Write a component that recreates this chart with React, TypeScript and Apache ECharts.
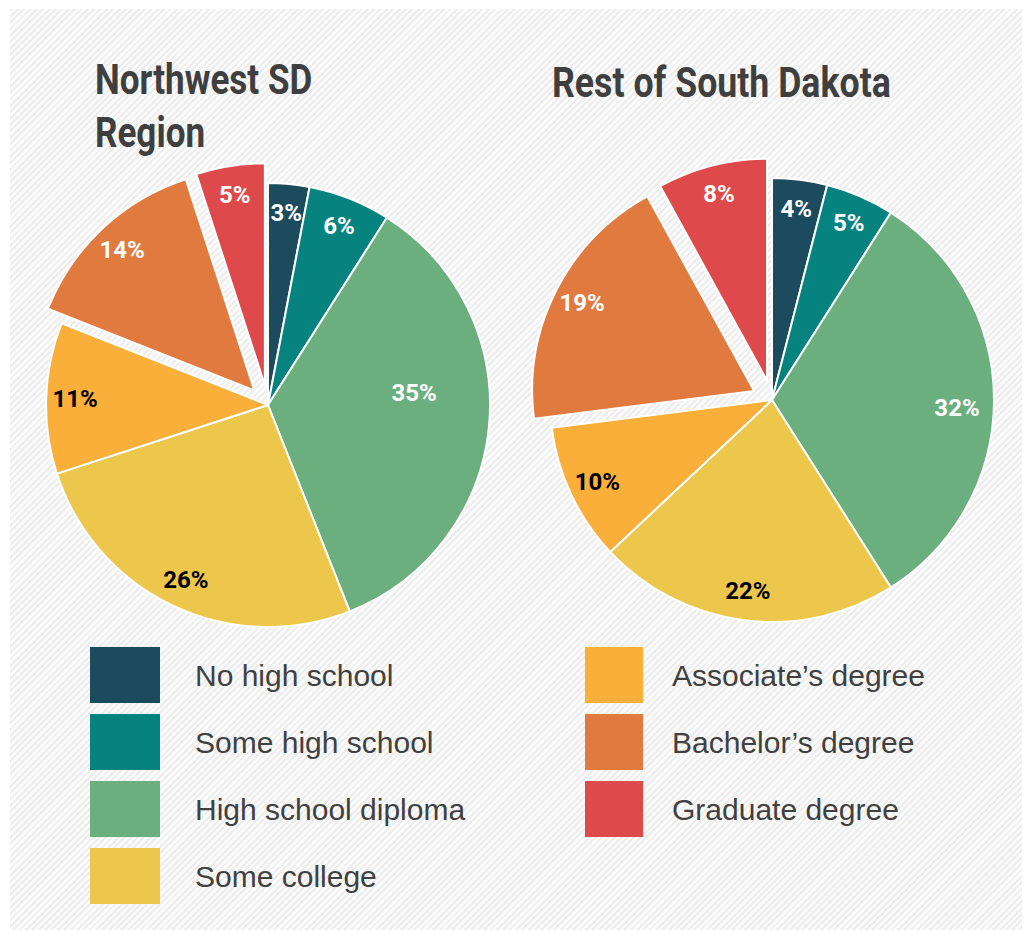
import React, { useEffect, useRef } from "react";
import * as echarts from "echarts";

const categories = [
  "No high school",
  "Some high school",
  "High school diploma",
  "Some college",
  "Associate\u2019s degree",
  "Bachelor\u2019s degree",
  "Graduate degree",
];
const northwestValues = [3, 6, 35, 26, 11, 14, 5];
const restValues = [4, 5, 32, 22, 10, 19, 8];
const explodedCategories = ["Bachelor\u2019s degree", "Graduate degree"];
const leftTitleLines = ["Northwest SD", "Region"];
const rightTitleLines = ["Rest of South Dakota"];

const colors = ["#1c4b5e", "#07837f", "#6baf7f", "#edc74c", "#f9af3a", "#e07a3f", "#de4a4b"];
const labelColors = ["#ffffff", "#ffffff", "#ffffff", "#000000", "#000000", "#ffffff", "#ffffff"];

const TITLE_FONT = "Roboto";
const LABEL_FONT = "Roboto";
const LEGEND_FONT = "'Liberation Sans', Arial, sans-serif";

function pieData(values: number[], transparent: boolean) {
  return categories.map((name, i) => ({
    name,
    value: values[i],
    selected: explodedCategories.includes(name),
    itemStyle: { color: transparent ? "rgba(0,0,0,0)" : colors[i] },
    label: { color: labelColors[i] },
  }));
}

export default function App() {
  const ref = useRef<HTMLDivElement>(null);

  useEffect(() => {
    if (!ref.current) return;
    const chart = echarts.init(ref.current, undefined, { renderer: "svg" });

    const mainSeries = (center: number[], values: number[]) => ({
      type: "pie",
      center,
      radius: 222,
      startAngle: 90,
      clockwise: true,
      selectedMode: "multiple",
      selectedOffset: 20,
      avoidLabelOverlap: false,
      label: { show: false },
      labelLine: { show: false },
      itemStyle: { borderColor: "#ffffff", borderWidth: 2 },
      select: { itemStyle: { borderColor: "#ffffff", borderWidth: 2 } },
      emphasis: { disabled: true },
      data: pieData(values, false),
    });

    const labelSeries = (center: number[], values: number[], nudge: (i: number) => any) => ({
      type: "pie",
      center,
      radius: [158, 222],
      startAngle: 90,
      clockwise: true,
      silent: true,
      selectedMode: "multiple",
      selectedOffset: 20,
      avoidLabelOverlap: false,
      itemStyle: { color: "rgba(0,0,0,0)", borderWidth: 0 },
      select: { itemStyle: { color: "rgba(0,0,0,0)", borderWidth: 0 } },
      emphasis: { disabled: true },
      label: {
        show: true,
        position: "inside",
        formatter: "{c}%",
        fontFamily: LABEL_FONT,
        fontWeight: "bold",
        fontSize: 24,
      },
      labelLine: { show: false },
      labelLayout: (p: any) => nudge(p.dataIndex),
      data: pieData(values, true),
    });

    const legendBase = {
      orient: "vertical",
      top: 642,
      itemHeight: 56,
      itemGap: 11,
      icon: "rect",
      selectedMode: false,
      itemStyle: { borderWidth: 0 },
    };

    const titleText = (text: string, x: number, y: number, sx: number) => ({
      type: "text",
      x,
      y,
      scaleX: sx,
      style: {
        text,
        fontFamily: TITLE_FONT,
        fontWeight: "bold",
        fontSize: 43,
        fill: "#3f3f3f",
        verticalAlign: "middle",
      },
    });

    chart.setOption({
      animation: false,
      graphic: [
        titleText(leftTitleLines[0], 95, 80, 0.815),
        titleText(leftTitleLines[1], 95, 133, 0.815),
        titleText(rightTitleLines[0], 552, 82, 0.83),
      ],
      legend: [
        {
          ...legendBase,
          data: categories.slice(0, 4),
          left: 85,
          itemWidth: 70,
          textStyle: { fontFamily: LEGEND_FONT, fontSize: 30, color: "#404040", padding: [0, 0, 0, 30] },
        },
        {
          ...legendBase,
          data: categories.slice(4),
          left: 580,
          itemWidth: 58,
          textStyle: { fontFamily: LEGEND_FONT, fontSize: 30, color: "#404040", padding: [0, 0, 0, 24] },
        },
      ],
      series: [
        mainSeries([268, 405], northwestValues),
        mainSeries([772, 400], restValues),
        labelSeries([268, 405], northwestValues, (i) => (i === 2 ? { dx: -46, dy: -30 } : {})),
        labelSeries([772, 400], restValues, (i) => (i === 2 ? { dx: -8, dy: 8 } : {})),
      ],
    });

    return () => chart.dispose();
  }, []);

  return (
    <div style={{ position: "fixed", left: 0, top: 0, width: 1025, height: 932, background: "#ffffff", overflow: "hidden" }}>
      <div
        style={{
          position: "absolute",
          left: 10,
          top: 9,
          width: 1012,
          height: 921,
          background:
            "repeating-linear-gradient(135deg, #ededed 0px, #ededed 2px, #fbfbfb 2px, #fbfbfb 4.5px)",
        }}
      />
      <div ref={ref} style={{ position: "absolute", left: 0, top: 0, width: 1025, height: 932 }} />
    </div>
  );
}
